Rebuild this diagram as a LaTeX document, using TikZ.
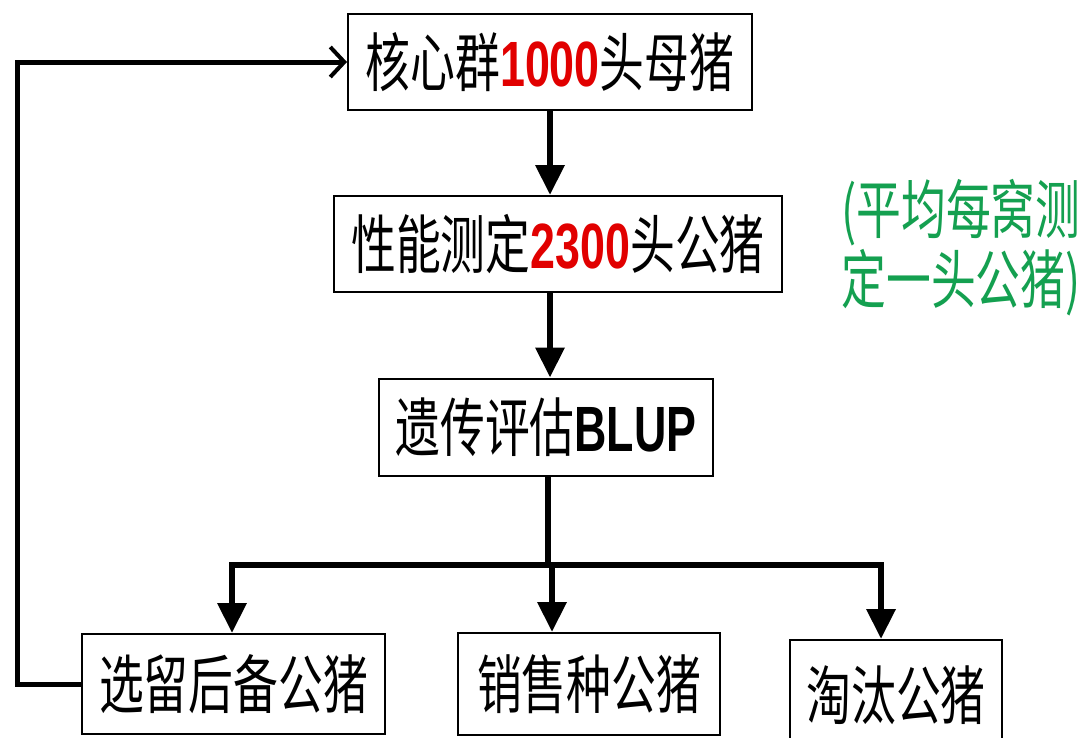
\documentclass[tikz,border=0pt]{standalone}
\usepackage{fontspec}
\usetikzlibrary{arrows.meta}
\newfontfamily\cjk{Noto Sans CJK SC}[FakeStretch=0.7]
\newfontfamily\lat{Liberation Sans}[FakeStretch=0.7]
\definecolor{numred}{RGB}{225,0,0}
\definecolor{notegreen}{RGB}{20,160,80}
\newcommand{\nm}[1]{{\lat\bfseries #1}}
\tikzset{
  box/.style={draw=black, line width=2pt, fill=white, inner sep=0pt, align=center,
    font=\cjk\fontsize{64}{70}\selectfont},
  flow/.style={line width=6.5pt, -{Triangle[length=30pt,width=28pt]}},
  link/.style={line width=6.5pt},
  back/.style={line width=5pt, line join=miter},
}
\begin{document}
\begin{tikzpicture}[x=1pt,y=-1pt]
\clip (0,0) rectangle (1086,737);
\fill[white] (0,0) rectangle (1086,737);
% boxes
\node[box, minimum width=404pt, minimum height=96pt] (core) at (550,62) {核心群\textcolor{numred}{\nm{1000}}头母猪};
\node[box, minimum width=448pt, minimum height=96pt] (test) at (558,244) {性能测定\textcolor{numred}{\nm{2300}}头公猪};
\node[box, minimum width=334pt, minimum height=97pt] (blup) at (546,427) {遗传评估\nm{BLUP}};
\node[box, minimum width=303pt, minimum height=100pt] (sel) at (233.5,684) {选留后备公猪};
\node[box, minimum width=262pt, minimum height=102pt] (sale) at (589,684) {销售种公猪};
\node[box, minimum width=212pt, minimum height=110pt] (cull) at (896,695) {淘汰公猪};
% note
\node[text=notegreen, align=left, inner sep=0pt, font=\cjk\fontsize{64}{70}\selectfont] (note) at (961,248)
  {(平均每窝测\\定一头公猪)};
% coordinates
\coordinate (ax) at (550,0);
\coordinate (bm) at (548,565);
\coordinate (bl) at (232,565);
\coordinate (bc) at (552,565);
\coordinate (br) at (881,565);
\coordinate (fbx) at (17,0);
% vertical flow
\draw[flow] (core.south -| ax) -- (test.north -| ax);
\draw[flow] (test.south -| ax) -- (blup.north -| ax);
\draw[link] (blup.south -| bm) -- (bm);
\draw[link, line cap=rect] (bl) -- (br);
\draw[flow] (bl) -- (bl |- sel.north);
\draw[flow] (bc) -- (bc |- sale.north);
\draw[flow] (br) -- (br |- cull.north);
% feedback
\draw[back, -{Straight Barb[length=14pt,width=30pt,line width=4pt]}] (sel.west) -- (sel.west -| fbx) |- (core.west);
\end{tikzpicture}
\end{document}
